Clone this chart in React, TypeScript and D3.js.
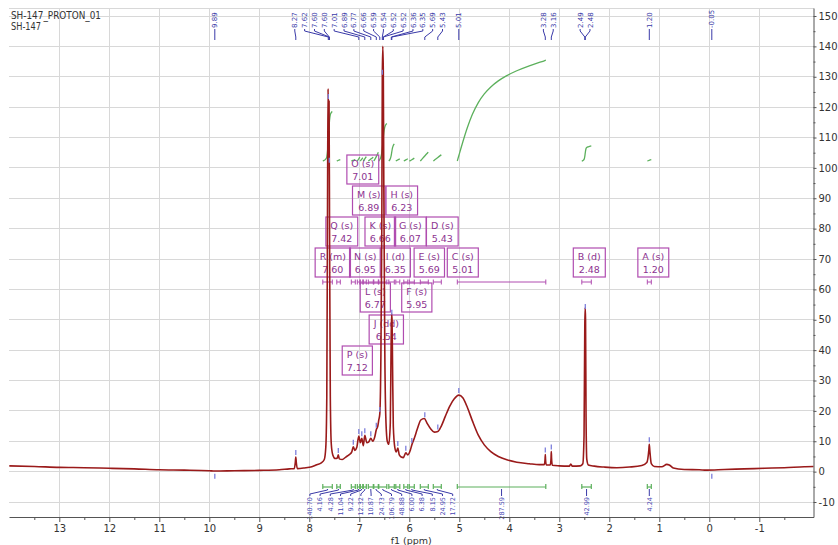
import React, { useEffect, useRef } from 'react';
import * as d3 from 'd3';

type Pt = [number, number];

// 1H trace: [ppm, intensity]
const spectrum: Pt[] = [
  [14.0, 1.9], [13.5, 1.7], [13.0, 1.4], [12.5, 1.3], [12.0, 1.1], [11.5, 0.9], [11.0, 0.6],
  [10.5, 0.5], [10.0, 0.3], [9.89, 0.2], [9.5, 0.3], [9.0, 0.4], [8.6, 0.6], [8.4, 0.9],
  [8.3, 1.0], [8.28, 3.0], [8.27, 4.8], [8.26, 3.0], [8.24, 1.0], [8.1, 1.2], [7.95, 1.6],
  [7.85, 2.3], [7.76, 2.9], [7.7, 4.0], [7.67, 8], [7.65, 25], [7.635, 90], [7.625, 126],
  [7.615, 118], [7.605, 122], [7.595, 80], [7.58, 25], [7.56, 9], [7.53, 5.5], [7.48, 4.3],
  [7.44, 4.5], [7.42, 5.5], [7.4, 4.2], [7.34, 4.0], [7.27, 4.8], [7.2, 5.6], [7.15, 6.5],
  [7.12, 8.2], [7.09, 7], [7.05, 8], [7.01, 11.7], [6.98, 9.5], [6.95, 11], [6.92, 8.5],
  [6.89, 12], [6.85, 9.5], [6.81, 9.8], [6.77, 11], [6.73, 10], [6.69, 11.5], [6.66, 13.8],
  [6.63, 15], [6.61, 17], [6.59, 19], [6.57, 35], [6.55, 80], [6.54, 130], [6.53, 140],
  [6.52, 132], [6.51, 95], [6.49, 40], [6.47, 18], [6.44, 10], [6.41, 9], [6.38, 16],
  [6.365, 40], [6.355, 52], [6.345, 50], [6.335, 35], [6.32, 15], [6.29, 8], [6.26, 6.5],
  [6.23, 7.8], [6.2, 5.5], [6.16, 4.8], [6.12, 4.6], [6.07, 6.2], [6.03, 5.5], [5.98, 7],
  [5.95, 8.8], [5.9, 11], [5.84, 14], [5.77, 17], [5.7, 17.5], [5.64, 15.8], [5.57, 14],
  [5.5, 13], [5.43, 13.2], [5.36, 15], [5.28, 18.2], [5.19, 21.6], [5.1, 24], [5.01, 25.2],
  [4.93, 24.3], [4.84, 21.2], [4.74, 16.8], [4.62, 12], [4.5, 8.8], [4.37, 6.6], [4.22, 5],
  [4.05, 3.9], [3.85, 3.1], [3.6, 2.6], [3.4, 2.3], [3.3, 2.3], [3.285, 4], [3.28, 5.6],
  [3.275, 4], [3.26, 2.2], [3.18, 2.2], [3.165, 4.5], [3.16, 6.6], [3.155, 4.5], [3.14, 2.1],
  [3.0, 1.9], [2.8, 1.8], [2.77, 2.5], [2.74, 1.8], [2.58, 1.9], [2.53, 2.6], [2.505, 12],
  [2.49, 48], [2.482, 54], [2.475, 50], [2.465, 18], [2.45, 4], [2.42, 2.2], [2.3, 1.8],
  [2.1, 1.5], [1.85, 1.3], [1.6, 1.5], [1.35, 2.0], [1.25, 3.0], [1.21, 7], [1.2, 9],
  [1.19, 7], [1.16, 2.6], [1.1, 1.7], [0.95, 1.6], [0.85, 2.4], [0.8, 2.2], [0.72, 1.2],
  [0.5, 0.7], [0.2, 0.6], [0.05, 0.5], [-0.3, 0.7], [-0.7, 0.9], [-1.1, 1.1], [-1.5, 1.3],
  [-1.9, 1.6], [-2.1, 1.7],
];

const ppmTicks = [13, 12, 11, 10, 9, 8, 7, 6, 5, 4, 3, 2, 1, 0, -1];
const ppmMinorTicks = [13.5, 12.5, 11.5, 10.5, 9.5, 8.5, 7.5, 6.5, 5.5, 4.5, 3.5, 2.5, 1.5, 0.5, -0.5, -1.5];
const intensityTicks = [-10, 0, 10, 20, 30, 40, 50, 60, 70, 80, 90, 100, 110, 120, 130, 140, 150];
const intensityMinorTicks = [-5, 5, 15, 25, 35, 45, 55, 65, 75, 85, 95, 105, 115, 125, 135, 145];

// picked peaks shown at the top
const peakLabels = [9.89, 8.27, 7.62, 7.6, 7.6, 7.01, 6.89, 6.77, 6.66, 6.59, 6.54, 6.52, 6.52,
  6.36, 6.35, 5.69, 5.43, 5.01, 3.28, 3.16, 2.49, 2.48, 1.2, -0.05];
const peakMarks = [8.27, 7.62, 7.6, 7.42, 7.12, 7.01, 6.95, 6.89, 6.77, 6.66, 6.59, 6.54, 6.35,
  6.23, 6.07, 5.95, 5.69, 5.43, 5.01, 3.28, 3.16, 2.48, 1.2];
const peakMarksBelow = [9.89, -0.05];

// multiplets A..R
const multipletLetters = ['A', 'B', 'C', 'D', 'E', 'F', 'G', 'H', 'I', 'J', 'K', 'L', 'M', 'N', 'O', 'P', 'Q', 'R'];
const multipletKinds = ['s', 'd', 's', 's', 's', 's', 's', 's', 'd', 'dd', 's', 's', 's', 's', 's', 's', 's', 'm'];
const multipletShifts = [1.2, 2.48, 5.01, 5.43, 5.69, 5.95, 6.07, 6.23, 6.35, 6.54, 6.66, 6.77, 6.89, 6.95, 7.01, 7.12, 7.42, 7.6];
const integralValues = [4.24, 42.99, 287.59, 17.72, 24.95, 8.15, 6.38, 6.0, 48.88, 106.79, 24.73, 10.87, 12.32, 9.22, 11.04, 4.28, 4.16, 140.7];
const rangeFrom = [1.24, 2.55, 5.04, 5.52, 5.78, 6.0, 6.11, 6.27, 6.41, 6.61, 6.71, 6.82, 6.92, 6.98, 7.04, 7.16, 7.45, 7.73];
const rangeTo = [1.16, 2.36, 3.27, 5.36, 5.62, 5.9, 6.03, 6.19, 6.3, 6.45, 6.62, 6.72, 6.86, 6.93, 6.99, 7.08, 7.38, 7.54];

// where the multiplet boxes sit (box centre in ppm, row index)
const boxCenterPpm = [1.12, 2.4, 4.93, 5.34, 5.6, 5.85, 5.98, 6.15, 6.28, 6.46, 6.58, 6.68, 6.81, 6.88, 6.93, 7.04, 7.35, 7.53];
const boxRow = [3, 3, 3, 2, 3, 4, 2, 1, 3, 5, 2, 4, 1, 3, 0, 6, 2, 3];
const rowTops = [155, 186, 217, 248, 283, 315, 346];

const FONT = '"DejaVu Sans", Verdana, sans-serif';
const RED = '#9a1a1a';
const GREEN = '#5cb05c';
const PURPLE = '#b04cb0';
const BLUE = '#3a3aa8';

// spread labels so neighbours keep a minimum gap (desired must be ascending)
function spread(desired: number[], gap: number) {
  const centre = (s: number, e: number) => {
    const part = desired.slice(s, e + 1);
    return ((d3.mean(part) as number) + (desired[s] + desired[e]) / 2) / 2;
  };
  let groups = desired.map((d, i) => ({ s: i, e: i, c: d }));
  let changed = true;
  while (changed) {
    changed = false;
    for (let i = 0; i < groups.length - 1; i++) {
      const a = groups[i], b = groups[i + 1];
      const aRight = a.c + ((a.e - a.s) * gap) / 2;
      const bLeft = b.c - ((b.e - b.s) * gap) / 2;
      if (bLeft - aRight < gap - 0.01) {
        const s = a.s, e = b.e;
        groups.splice(i, 2, { s, e, c: centre(s, e) });
        changed = true;
        break;
      }
    }
  }
  const out: number[] = [];
  groups.forEach(g => {
    const n = g.e - g.s + 1;
    for (let k = 0; k < n; k++) out.push(g.c + (k - (n - 1) / 2) * gap);
  });
  return out;
}

export default function App() {
  const svgRef = useRef<SVGSVGElement>(null);

  useEffect(() => {
    if (!svgRef.current) return;
    const svg = d3.select(svgRef.current);
    svg.selectAll('*').remove();

    const left = 9, right = 813.5, top = 8, bottom = 517;
    const x0 = d3.scaleLinear().domain([13, -1]).range([59.3, 759.3]);
    const x = d3.scaleLinear().domain([x0.invert(left), x0.invert(right)]).range([left, right]);
    const y0 = d3.scaleLinear().domain([-10, 150]).range([502, 16]);
    const y = d3.scaleLinear().domain([y0.invert(bottom), y0.invert(top)]).range([bottom, top]);

    const valueAt = (p: number) => {
      for (let i = 0; i < spectrum.length - 1; i++) {
        const a = spectrum[i], b = spectrum[i + 1];
        if (a[0] >= p && b[0] <= p) return a[1] + ((a[0] - p) / (a[0] - b[0])) * (b[1] - a[1]);
      }
      return 0;
    };

    svg.append('rect').attr('width', 838).attr('height', 545).attr('fill', '#fff');

    // grid
    const grid = svg.append('g').attr('stroke', '#d8d8d8').attr('stroke-width', 1).attr('shape-rendering', 'crispEdges');
    grid.append('g').selectAll('line').data(ppmTicks).join('line')
      .attr('x1', d => x(d)).attr('x2', d => x(d)).attr('y1', top).attr('y2', bottom);
    grid.append('g').selectAll('line').data(intensityTicks).join('line')
      .attr('x1', left).attr('x2', right).attr('y1', d => y(d)).attr('y2', d => y(d));
    grid.append('line').attr('x1', left).attr('x2', right).attr('y1', top).attr('y2', top);

    // integral curves
    const intBase = 161;
    const pxPerUnit = 101 / 287.59;
    const ig = svg.append('g').attr('fill', 'none').attr('stroke', GREEN).attr('stroke-width', 1.3);
    multipletLetters.forEach((_, i) => {
      const from = rangeFrom[i], to = rangeTo[i];
      const pts: Pt[] = [[from, valueAt(from)], ...spectrum.filter(d => d[0] < from && d[0] > to), [to, valueAt(to)]];
      let acc = 0;
      const cum: Pt[] = [[from, 0]];
      for (let k = 1; k < pts.length; k++) {
        acc += ((pts[k - 1][0] - pts[k][0]) * (pts[k - 1][1] + pts[k][1])) / 2;
        cum.push([pts[k][0], acc]);
      }
      const h = integralValues[i] * pxPerUnit;
      const line = d3.line<Pt>().x(d => x(d[0])).y(d => intBase - (d[1] / acc) * h).curve(d3.curveMonotoneX);
      ig.append('path').attr('d', line(cum));
    });

    // multiplet boxes
    const bg = svg.append('g').attr('font-family', FONT).attr('font-size', 9.5);
    multipletLetters.forEach((L, i) => {
      const cx = x(boxCenterPpm[i]);
      const ty = rowTops[boxRow[i]];
      const g = bg.append('g');
      const rect = g.append('rect').attr('fill', 'none').attr('stroke', PURPLE).attr('stroke-width', 1.2);
      const t1 = g.append('text').attr('x', cx).attr('y', ty + 12).attr('text-anchor', 'middle').attr('fill', '#8c3290')
        .text(`${L} (${multipletKinds[i]})`);
      const t2 = g.append('text').attr('x', cx).attr('y', ty + 25).attr('text-anchor', 'middle').attr('fill', '#8c3290')
        .text(multipletShifts[i].toFixed(2));
      const w = Math.max((t1.node() as SVGTextElement).getComputedTextLength(), (t2.node() as SVGTextElement).getComputedTextLength()) + 9;
      rect.attr('x', cx - w / 2).attr('y', ty).attr('width', w).attr('height', 29);
    });

    // multiplet range bars
    const rb = svg.append('g').attr('stroke', PURPLE).attr('stroke-width', 1);
    multipletLetters.forEach((_, i) => {
      const a = x(rangeFrom[i]), b = x(rangeTo[i]), yy = 282;
      rb.append('line').attr('x1', a).attr('x2', b).attr('y1', yy).attr('y2', yy);
      rb.append('line').attr('x1', a).attr('x2', a).attr('y1', yy - 2.5).attr('y2', yy + 2.5);
      rb.append('line').attr('x1', b).attr('x2', b).attr('y1', yy - 2.5).attr('y2', yy + 2.5);
    });

    // spectrum
    svg.append('clipPath').attr('id', 'plotclip').append('rect')
      .attr('x', left).attr('y', top).attr('width', right - left).attr('height', bottom - top);
    const specLine = d3.line<Pt>().x(d => x(d[0])).y(d => y(d[1])).curve(d3.curveMonotoneX);
    svg.append('path').attr('clip-path', 'url(#plotclip)').attr('d', specLine(spectrum))
      .attr('fill', 'none').attr('stroke', RED).attr('stroke-width', 1.6).attr('stroke-linejoin', 'round');

    // peak-pick ticks
    const pm = svg.append('g').attr('stroke', '#7d7fdc').attr('stroke-width', 1.3);
    peakMarks.forEach(p => {
      const yy = y(valueAt(p));
      pm.append('line').attr('x1', x(p)).attr('x2', x(p)).attr('y1', yy - 2).attr('y2', yy - 7);
    });
    peakMarksBelow.forEach(p => {
      pm.append('line').attr('x1', x(p)).attr('x2', x(p)).attr('y1', y(0) + 2).attr('y2', y(0) + 7);
    });

    // peak labels along the top
    const desired = peakLabels.map(p => x(p));
    const lx = spread(desired, 9.85);
    const pl = svg.append('g');
    peakLabels.forEach((p, i) => {
      const px = x(p);
      pl.append('polyline')
        .attr('points', `${lx[i]},29 ${lx[i]},31 ${px},37 ${px},40`)
        .attr('fill', 'none').attr('stroke', BLUE).attr('stroke-width', 1);
      pl.append('text')
        .attr('transform', `translate(${lx[i] + 2.6},28) rotate(-90)`)
        .attr('font-family', FONT).attr('font-size', 7).attr('fill', BLUE)
        .text(p.toFixed(2));
    });

    // integral ranges and values along the bottom
    const order = d3.range(multipletLetters.length).sort((a, b) => rangeFrom[b] - rangeFrom[a]);
    const centers = order.map(i => x((rangeFrom[i] + rangeTo[i]) / 2));
    const ilx = spread(centers, 10.2);
    const il = svg.append('g');
    order.forEach((i, k) => {
      const a = x(rangeFrom[i]), b = x(rangeTo[i]), yy = 487;
      il.append('line').attr('x1', a).attr('x2', b).attr('y1', yy).attr('y2', yy).attr('stroke', GREEN).attr('stroke-width', 1.2);
      il.append('line').attr('x1', a).attr('x2', a).attr('y1', yy - 3).attr('y2', yy + 2).attr('stroke', GREEN).attr('stroke-width', 1.2);
      il.append('line').attr('x1', b).attr('x2', b).attr('y1', yy - 3).attr('y2', yy + 2).attr('stroke', GREEN).attr('stroke-width', 1.2);
      const cx = centers[k];
      il.append('polyline')
        .attr('points', `${ilx[k]},496 ${ilx[k]},494 ${cx},490 ${cx},489`)
        .attr('fill', 'none').attr('stroke', BLUE).attr('stroke-width', 1);
      il.append('text')
        .attr('transform', `translate(${ilx[k] + 2.4},497) rotate(-90)`)
        .attr('text-anchor', 'end')
        .attr('font-family', FONT).attr('font-size', 6.5).attr('fill', '#4646b4')
        .text(integralValues[i].toFixed(2));
    });

    // axes
    const styleAxis = (g: d3.Selection<SVGGElement, unknown, null, undefined>) => {
      g.select('.domain').attr('stroke', '#555');
      g.selectAll('.tick line').attr('stroke', '#555');
      g.selectAll('.tick text').attr('font-family', FONT).attr('font-size', 10).attr('fill', '#333');
    };
    const gx = svg.append('g').attr('transform', `translate(0,${bottom})`)
      .call(d3.axisBottom(x).tickValues(ppmTicks).tickSize(5).tickSizeOuter(0).tickPadding(3).tickFormat(d => String(d)));
    styleAxis(gx);
    const gxm = svg.append('g').attr('transform', `translate(0,${bottom})`)
      .call(d3.axisBottom(x).tickValues(ppmMinorTicks).tickSize(3).tickSizeOuter(0).tickFormat(() => ''));
    gxm.select('.domain').remove();
    gxm.selectAll('.tick line').attr('stroke', '#555');

    const gy = svg.append('g').attr('transform', `translate(${right},0)`)
      .call(d3.axisRight(y).tickValues(intensityTicks).tickSize(3).tickSizeOuter(0).tickPadding(2).tickFormat(d => String(d)));
    styleAxis(gy);
    const gym = svg.append('g').attr('transform', `translate(${right},0)`)
      .call(d3.axisRight(y).tickValues(intensityMinorTicks).tickSize(2).tickSizeOuter(0).tickFormat(() => ''));
    gym.select('.domain').remove();
    gym.selectAll('.tick line').attr('stroke', '#555');

    svg.append('text').attr('x', (left + right) / 2).attr('y', 544).attr('text-anchor', 'middle')
      .attr('font-family', FONT).attr('font-size', 9.5).attr('fill', '#333').text('f1 (ppm)');

    // title
    svg.append('text').attr('x', 11).attr('y', 19).attr('font-family', FONT).attr('font-size', 10)
      .attr('fill', '#333').attr('textLength', 90).attr('lengthAdjust', 'spacingAndGlyphs').text('SH-147_PROTON_01');
    svg.append('text').attr('x', 11).attr('y', 30).attr('font-family', FONT).attr('font-size', 10)
      .attr('fill', '#333').attr('textLength', 30).attr('lengthAdjust', 'spacingAndGlyphs').text('SH-147');
  }, []);

  return (
    <div style={{ position: 'absolute', left: 0, top: 0 }}>
      <svg ref={svgRef} width={838} height={545} />
    </div>
  );
}
